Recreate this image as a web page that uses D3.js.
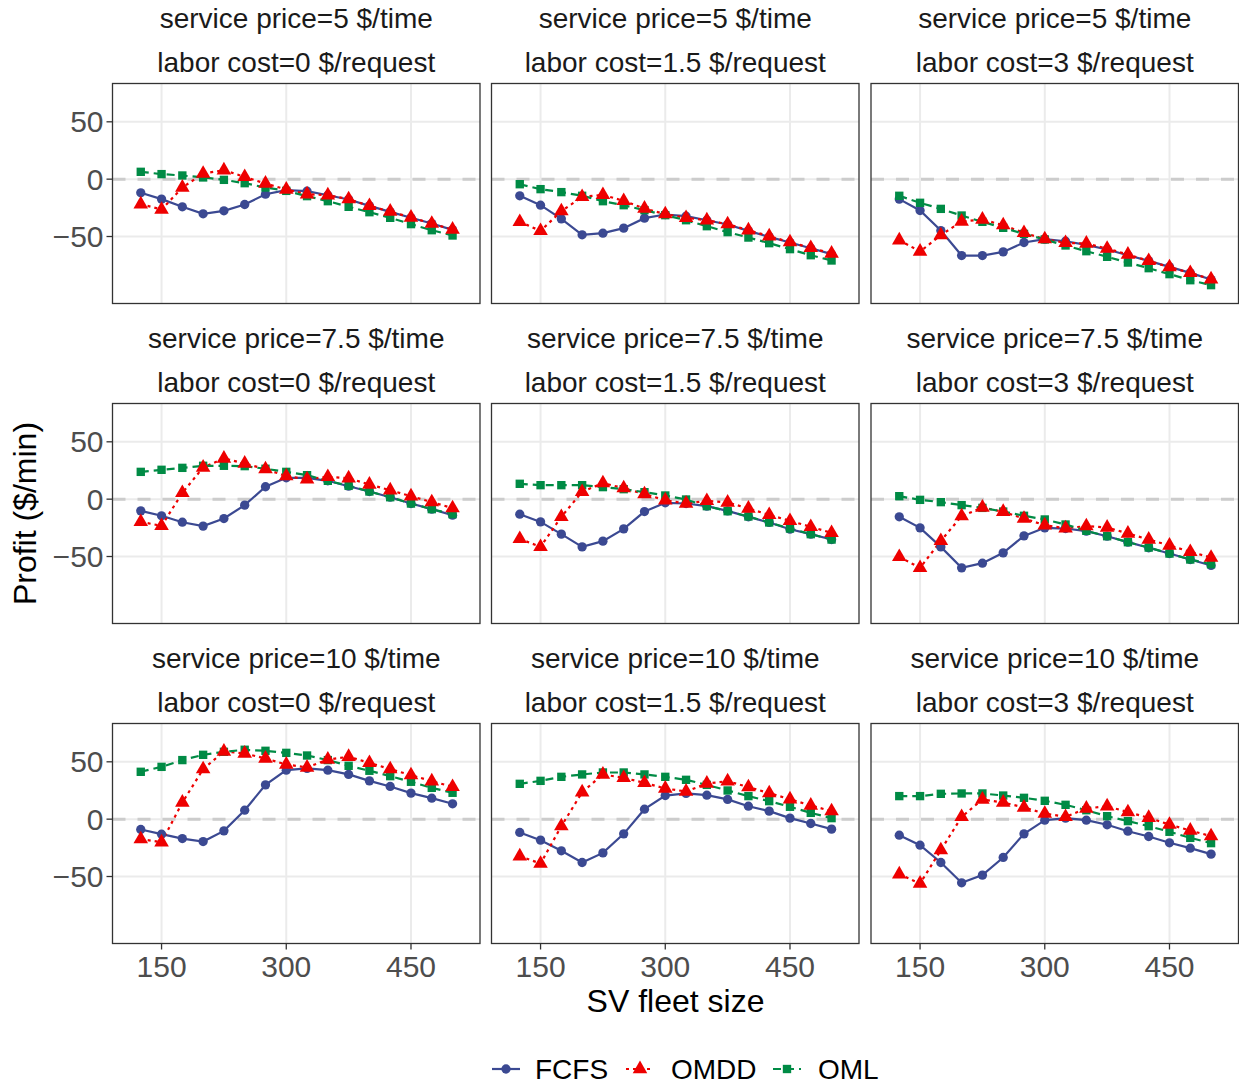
<!DOCTYPE html>
<html>
<head>
<meta charset="utf-8">
<script src="https://d3js.org/d3.v7.min.js"></script>
<style>
  body { margin: 0; background: #fff; }
  svg text { font-family: "Liberation Sans", Arial, Helvetica, sans-serif; }
</style>
</head>
<body>
<div id="chart"></div>
<script>
// facet values
const servicePrices = [5, 7.5, 10];
const laborCosts = [0, 1.5, 3];
const fleetSizes = [125, 150, 175, 200, 225, 250, 275, 300, 325, 350, 375, 400, 425, 450, 475, 500];
const xTicks = [150, 300, 450];
const yTicks = [-50, 0, 50];
const methods = ['FCFS', 'OMDD', 'OML'];

// profit per panel, row-major: price 5 (labor 0, 1.5, 3), price 7.5 (...), price 10 (...)
const fcfsProfit = [
  [-11.9, -17.4, -24.1, -30.2, -27.6, -22.1, -13.1, -9.6, -10.5, -14.0, -17.7, -23.3, -28.5, -33.7, -38.7, -44.2],
  [-14.5, -22.7, -34.6, -48.5, -47.1, -42.7, -34.0, -30.8, -32.3, -35.8, -39.5, -45.1, -50.3, -55.2, -60.2, -65.4],
  [-17.4, -27.3, -44.8, -66.6, -66.6, -63.4, -55.2, -52.3, -54.1, -57.3, -61.3, -66.3, -71.2, -76.5, -81.7, -87.5],
  [-10.2, -14.5, -20.1, -23.5, -16.9, -5.2, 10.8, 18.6, 18.6, 16.0, 11.3, 6.7, 1.7, -3.8, -8.7, -14.0],
  [-13.1, -19.8, -30.5, -41.6, -36.6, -25.9, -10.8, -3.2, -3.8, -6.1, -10.2, -15.4, -20.3, -26.2, -30.5, -35.2],
  [-15.4, -25.0, -41.6, -59.9, -55.8, -46.8, -32.0, -25.0, -25.6, -27.9, -32.3, -37.5, -42.4, -47.4, -52.6, -57.8],
  [-9.0, -13.1, -16.9, -19.5, -10.2, 7.8, 29.9, 42.7, 44.2, 42.7, 39.0, 33.4, 28.5, 22.7, 18.3, 13.4],
  [-11.6, -18.3, -27.6, -37.8, -29.4, -12.8, 8.7, 20.6, 22.4, 20.9, 17.2, 11.3, 7.0, 0.9, -3.8, -8.7],
  [-14.0, -22.7, -37.8, -55.5, -48.8, -33.4, -12.8, -0.9, 0.9, -0.9, -4.9, -10.5, -15.1, -20.6, -25.3, -30.5]
];
const omddProfit = [
  [-21.8, -26.5, -7.3, 4.9, 7.8, 2.0, -3.8, -9.0, -13.1, -14.0, -17.4, -23.3, -28.2, -33.4, -38.7, -43.9],
  [-37.2, -45.1, -27.9, -15.4, -13.7, -18.9, -25.6, -30.5, -33.7, -35.8, -39.2, -44.5, -49.7, -54.9, -59.9, -64.8],
  [-53.2, -63.1, -48.8, -36.9, -35.2, -40.1, -46.8, -52.3, -55.5, -56.1, -60.5, -65.7, -71.2, -76.7, -81.7, -87.2],
  [-19.8, -23.3, 5.5, 27.6, 35.5, 31.1, 26.2, 20.1, 17.4, 19.5, 18.3, 12.8, 7.8, 2.6, -2.6, -7.8],
  [-34.6, -41.6, -15.4, 6.4, 14.0, 9.6, 4.4, -0.9, -3.8, -1.5, -2.9, -8.1, -13.7, -18.9, -24.1, -29.4],
  [-50.3, -59.9, -36.3, -14.8, -7.3, -11.0, -16.9, -22.7, -25.3, -23.5, -24.7, -29.9, -35.2, -40.4, -45.9, -50.9],
  [-17.4, -20.1, 14.5, 43.6, 59.0, 57.3, 52.9, 47.7, 45.1, 52.0, 54.4, 49.1, 43.6, 38.4, 33.1, 28.2],
  [-32.3, -38.7, -6.1, 23.5, 39.0, 36.0, 31.7, 26.7, 24.1, 31.1, 33.1, 27.9, 22.7, 17.4, 11.9, 7.0],
  [-48.0, -56.1, -27.0, 2.0, 17.2, 14.5, 10.2, 4.9, 2.0, 9.3, 11.3, 6.1, 1.2, -4.7, -9.9, -14.8]
];
const omlProfit = [
  [6.4, 4.4, 3.2, 1.5, -0.6, -3.5, -7.3, -10.2, -14.8, -19.2, -24.1, -28.8, -33.7, -39.2, -44.5, -49.1],
  [-4.4, -8.7, -11.3, -14.5, -19.2, -22.7, -27.0, -31.4, -35.8, -41.0, -46.2, -50.9, -55.8, -61.0, -66.3, -70.9],
  [-14.5, -20.6, -25.9, -31.7, -37.2, -42.4, -47.7, -52.6, -57.8, -62.8, -67.7, -72.7, -77.6, -82.8, -88.1, -92.4],
  [23.8, 25.6, 27.3, 29.1, 29.1, 28.8, 26.5, 23.8, 20.9, 16.0, 11.6, 6.7, 1.7, -3.8, -8.7, -13.1],
  [13.4, 12.2, 12.2, 12.2, 10.5, 8.7, 6.1, 3.2, -0.3, -6.1, -10.5, -15.1, -20.3, -25.6, -30.5, -35.2],
  [2.6, -0.6, -2.6, -5.2, -7.6, -10.8, -14.5, -17.7, -22.1, -27.6, -32.3, -37.5, -42.2, -47.4, -52.6, -56.7],
  [41.3, 45.6, 51.5, 56.1, 58.7, 60.5, 59.6, 57.8, 55.5, 51.5, 46.5, 42.2, 37.5, 32.6, 27.3, 23.0],
  [30.8, 33.4, 36.9, 39.0, 40.7, 40.7, 39.0, 36.9, 34.3, 29.9, 25.0, 20.1, 15.7, 10.8, 5.5, 0.9],
  [20.1, 20.1, 22.1, 22.4, 22.4, 20.6, 18.6, 16.0, 12.5, 7.8, 2.6, -1.7, -6.1, -11.0, -16.3, -20.9]
];

const W = 1239, H = 1083;
const panelLeft = [112.5, 491.5, 871];
const panelTop = [83.5, 403.5, 723.5];
const pw = 367.5, ph = 220;

const colors = { FCFS: '#3B4992', OMDD: '#EE0000', OML: '#008B45' };
const dashes = { FCFS: null, OMDD: '3,4', OML: '8,5' };
const symbols = { FCFS: d3.symbolCircle, OMDD: d3.symbolTriangle, OML: d3.symbolSquare };
const symSize = { FCFS: 68, OMDD: 92, OML: 70 };
const seriesData = { FCFS: fcfsProfit, OMDD: omddProfit, OML: omlProfit };

const svg = d3.select('#chart').append('svg')
  .attr('width', W).attr('height', H);

const x = d3.scaleLinear().domain([91, 533]).range([0, pw]);
const y = d3.scaleLinear().domain([-108.4, 83.4]).range([ph, 0]);

const line = d3.line()
  .x(d => x(d.size))
  .y(d => y(d.profit));

servicePrices.forEach((price, r) => {
  laborCosts.forEach((labor, c) => {
    const idx = r * 3 + c;
    const g = svg.append('g')
      .attr('transform', `translate(${panelLeft[c]},${panelTop[r]})`);

    // strip labels
    const cx = pw / 2;
    g.append('text')
      .attr('x', cx).attr('y', -65.5)
      .attr('text-anchor', 'middle').attr('dominant-baseline', 'central')
      .attr('font-size', '28px').attr('fill', '#1a1a1a')
      .text(`service price=${price} $/time`);
    g.append('text')
      .attr('x', cx).attr('y', -21.5)
      .attr('text-anchor', 'middle').attr('dominant-baseline', 'central')
      .attr('font-size', '28px').attr('fill', '#1a1a1a')
      .text(`labor cost=${labor} $/request`);

    // grid
    g.selectAll('.gx').data(xTicks).enter().append('line')
      .attr('x1', d => x(d)).attr('x2', d => x(d))
      .attr('y1', 0).attr('y2', ph)
      .attr('stroke', '#ebebeb').attr('stroke-width', 2);
    g.selectAll('.gy').data(yTicks).enter().append('line')
      .attr('x1', 0).attr('x2', pw)
      .attr('y1', d => y(d)).attr('y2', d => y(d))
      .attr('stroke', '#ebebeb').attr('stroke-width', 2);

    // zero reference line
    g.append('line')
      .attr('x1', 0).attr('x2', pw)
      .attr('y1', y(0)).attr('y2', y(0))
      .attr('stroke', '#cccccc').attr('stroke-width', 3)
      .attr('stroke-dasharray', '13,12');

    // lines
    methods.forEach(m => {
      const pts = fleetSizes.map((s, i) => ({ size: s, profit: seriesData[m][idx][i] }));
      g.append('path')
        .datum(pts)
        .attr('d', line)
        .attr('fill', 'none')
        .attr('stroke', colors[m])
        .attr('stroke-width', 2.2)
        .attr('stroke-dasharray', dashes[m]);
    });

    // points (triangles on top)
    ['FCFS', 'OML', 'OMDD'].forEach(m => {
      const pts = fleetSizes.map((s, i) => ({ size: s, profit: seriesData[m][idx][i] }));
      g.selectAll(null).data(pts).enter().append('path')
        .attr('transform', d => `translate(${x(d.size)},${y(d.profit)})`)
        .attr('d', d3.symbol().type(symbols[m]).size(symSize[m]))
        .attr('fill', colors[m]);
    });

    // border
    g.append('rect')
      .attr('width', pw).attr('height', ph)
      .attr('fill', 'none').attr('stroke', '#333333').attr('stroke-width', 1.3);

    // y axis on left column
    if (c === 0) {
      g.selectAll('.yt').data(yTicks).enter().append('line')
        .attr('x1', -6).attr('x2', 0)
        .attr('y1', d => y(d)).attr('y2', d => y(d))
        .attr('stroke', '#333333').attr('stroke-width', 1.3);
      g.selectAll('.yl').data(yTicks).enter().append('text')
        .attr('x', -9).attr('y', d => y(d))
        .attr('text-anchor', 'end').attr('dominant-baseline', 'central')
        .attr('font-size', '30px').attr('fill', '#4d4d4d')
        .text(d => d < 0 ? '\u2212' + Math.abs(d) : d);
    }
    // x axis on bottom row
    if (r === 2) {
      g.selectAll('.xt').data(xTicks).enter().append('line')
        .attr('x1', d => x(d)).attr('x2', d => x(d))
        .attr('y1', ph).attr('y2', ph + 6)
        .attr('stroke', '#333333').attr('stroke-width', 1.3);
      g.selectAll('.xl').data(xTicks).enter().append('text')
        .attr('x', d => x(d)).attr('y', ph + 23)
        .attr('text-anchor', 'middle').attr('dominant-baseline', 'central')
        .attr('font-size', '30px').attr('fill', '#4d4d4d')
        .text(d => d);
    }
  });
});

// axis titles
svg.append('text')
  .attr('x', (panelLeft[0] + panelLeft[2] + pw) / 2).attr('y', 1001)
  .attr('text-anchor', 'middle').attr('dominant-baseline', 'central')
  .attr('font-size', '32px').attr('fill', '#000')
  .text('SV fleet size');
svg.append('text')
  .attr('transform', `translate(25,${(panelTop[0] + panelTop[2] + ph) / 2}) rotate(-90)`)
  .attr('text-anchor', 'middle').attr('dominant-baseline', 'central')
  .attr('font-size', '32px').attr('fill', '#000')
  .text('Profit ($/min)');

// legend
const legendItems = [
  { m: 'FCFS', keyX: 492, textX: 535 },
  { m: 'OMDD', keyX: 626, textX: 671 },
  { m: 'OML', keyX: 773, textX: 818 }
];
const ly = 1069;
const legend = svg.append('g');
legendItems.forEach(it => {
  legend.append('line')
    .attr('x1', it.keyX).attr('x2', it.keyX + 28)
    .attr('y1', ly).attr('y2', ly)
    .attr('stroke', colors[it.m]).attr('stroke-width', 2.2)
    .attr('stroke-dasharray', dashes[it.m]);
  legend.append('path')
    .attr('transform', `translate(${it.keyX + 14},${ly})`)
    .attr('d', d3.symbol().type(symbols[it.m]).size(symSize[it.m]))
    .attr('fill', colors[it.m]);
  legend.append('text')
    .attr('x', it.textX).attr('y', ly)
    .attr('dominant-baseline', 'central')
    .attr('font-size', '28px').attr('fill', '#000')
    .text(it.m);
});
</script>
</body>
</html>
